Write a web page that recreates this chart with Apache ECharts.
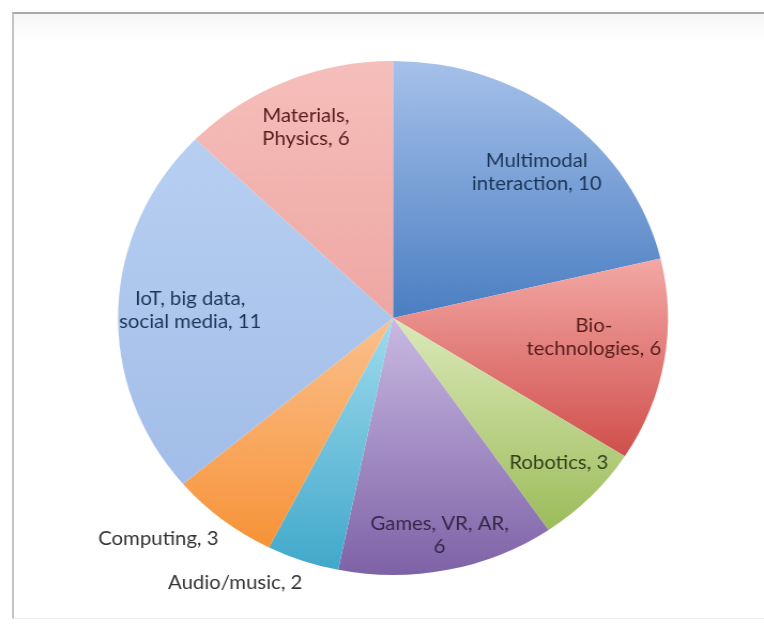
<!DOCTYPE html>
<html><head><meta charset="utf-8">
<script src="https://cdn.jsdelivr.net/npm/echarts@6/dist/echarts.min.js"></script>
<style>
html,body{margin:0;padding:0;background:#fff;width:764px;height:626px;overflow:hidden;}
#frame{position:absolute;left:12px;top:12px;width:752px;height:604px;border-top:2px solid #a9a9a9;border-left:2px solid #c4c4c4;border-bottom:1px solid #ececec;background:linear-gradient(#f6f6f6,#ffffff 28px);}
#chart{position:absolute;left:0;top:0;width:714px;height:626px;transform:scaleX(1.07);transform-origin:0 0;}
</style></head><body>
<div id="frame"></div><div id="chart"></div>
<script>
// ---- data ----
const categories = ['Multimodal interaction', 'Bio-technologies', 'Robotics', 'Games, VR, AR', 'Audio/music', 'Computing', 'IoT, big data, social media', 'Materials, Physics'];
const values = [10, 6, 3, 6, 2, 3, 11, 6];
const labelTemplates = ['Multimodal\ninteraction, {c}', 'Bio-\ntechnologies, {c}', 'Robotics, {c}', 'Games, VR, AR,\n{c}', 'Audio/music, {c}', 'Computing, {c}', 'IoT, big data,\nsocial media, {c}', 'Materials,\nPhysics, {c}'];

// ---- styles ----
const gradTop    = ['#a6c1ea', '#f3a8a5', '#dbe9b9', '#c9b9e2', '#9fdbee', '#fbc08d', '#b7cff1', '#f6bfbb'];
const gradBottom = ['#4a7ec2', '#d04f4c', '#9cbc5a', '#7e62a7', '#41a8ca', '#f79338', '#a2bde8', '#eea7a3'];
const labelColors = ['#1c3556', '#561d1b', '#33411a', '#352846', '#333333', '#333333', '#1c3556', '#561d1b'];
const labelNudges = [[5, 18], [-18, -15], [5, 0], [2, 13], [-79, 68], [-90, 57], [19, -1], [0, 1]];

const CX = 367.3, CY = 318, R = 257;

const chart = echarts.init(document.getElementById('chart'), null, {renderer: 'canvas'});

const sliceData = values.map((v, i) => ({
  name: categories[i], value: v,
  itemStyle: { color: new echarts.graphic.LinearGradient(0, 0, 0, 1, [
    {offset: 0, color: gradTop[i]}, {offset: 1, color: gradBottom[i]}]) }
}));

const labelData = values.map((v, i) => ({
  name: categories[i], value: v,
  label: { formatter: labelTemplates[i], color: labelColors[i], offset: labelNudges[i] }
}));

chart.setOption({
  animation: false,
  backgroundColor: 'transparent',
  series: [
    {
      type: 'pie', center: [CX, CY], radius: [0, R],
      startAngle: 90, clockwise: true, silent: true,
      avoidLabelOverlap: false,
      label: {show: false}, labelLine: {show: false},
      itemStyle: {borderWidth: 0},
      emphasis: {disabled: true},
      data: sliceData
    },
    {
      type: 'pie', center: [CX, CY], radius: [R * 0.6, R],
      startAngle: 90, clockwise: true, silent: true,
      avoidLabelOverlap: false,
      itemStyle: {color: 'rgba(0,0,0,0)', borderWidth: 0},
      labelLine: {show: false},
      emphasis: {disabled: true},
      label: {
        show: true, position: 'inside',
        fontFamily: 'Lato, "Open Sans", sans-serif', fontSize: 19, lineHeight: 23,
        align: 'center'
      },
      data: labelData
    }
  ]
});
</script></body></html>
